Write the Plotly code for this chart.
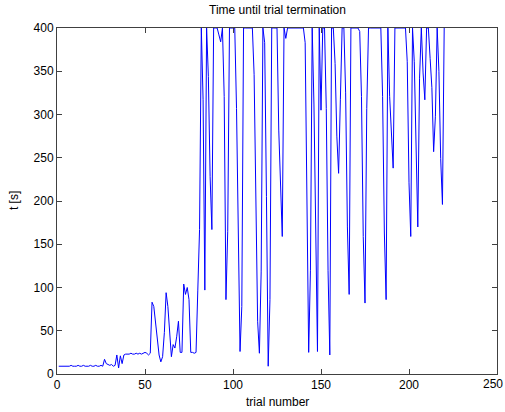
import plotly.graph_objects as go

# Time until trial termination [s] for trials 1..220
early = [9, 9, 9, 9, 9, 9, 9, 10, 9, 9, 9, 10, 9, 9, 10, 9, 9, 9, 10, 9,
         9, 10, 9, 9, 10, 9, 17, 12, 11, 10, 11, 9, 10, 22, 7, 21, 12, 22, 23, 23,
         23, 24, 23, 23, 24, 23, 24, 23, 24, 25, 24, 22, 24, 83, 78, 60, 40, 22, 14, 20,
         48, 94, 78, 43, 20, 34, 30, 43, 61, 25, 25, 104, 92, 100, 86, 25, 25, 24, 25]
late = [97, 167, 400, 317, 97, 400, 344, 228, 167, 400,
        400, 400, 392, 384, 400, 321, 86, 165, 400, 400,
        400, 400, 307, 170, 26, 78, 400, 400, 400, 400,
        400, 400, 346, 224, 61, 24, 118, 400, 383, 205,
        9, 86, 400, 400, 400, 400, 282, 219, 159, 400,
        388, 400, 400, 400, 400, 400, 400, 400, 400, 400,
        400, 383, 175, 25, 120, 400, 311, 134, 26, 400,
        305, 400, 400, 307, 120, 22, 400, 400, 359, 275,
        232, 317, 400, 400, 325, 170, 92, 400, 400, 400,
        400, 400, 396, 321, 159, 82, 307, 400, 400, 400,
        400, 400, 400, 400, 400, 321, 163, 86, 400, 321,
        279, 238, 400, 400, 400, 400, 400, 400, 400, 361,
        221, 159, 400, 361, 275, 170, 342, 400, 348, 317,
        400, 400, 365, 331, 257, 298, 400, 350, 249, 196,
        400]
t_values = early + late
trials = list(range(1, len(t_values) + 1))

x_ticks = [0, 50, 100, 150, 200, 250]
x_ticktext = ["0", "50", "100", "150", "200", ""]   # last label drawn as annotation at the edge
y_ticks = [0, 50, 100, 150, 200, 250, 300, 350, 400]

font = "Liberation Sans, Arial, sans-serif"

fig = go.Figure()
fig.add_trace(go.Scatter(x=trials, y=t_values, mode="lines",
                         line=dict(color="#0000ff", width=1),
                         showlegend=False, hoverinfo="skip"))

axis_common = dict(showgrid=False, zeroline=False, showline=True,
                   linecolor="#404040", linewidth=1, mirror="ticks",
                   ticks="inside", ticklen=5, tickcolor="#404040",
                   ticklabeloverflow="allow",
                   tickfont=dict(family=font, size=12, color="#000000"))

fig.update_layout(
    width=505, height=412,
    margin=dict(l=57, r=8, t=28, b=38),
    paper_bgcolor="white", plot_bgcolor="white",
    xaxis=dict(range=[0, 250], tickvals=x_ticks, ticktext=x_ticktext, **axis_common),
    yaxis=dict(range=[0, 400], tickvals=y_ticks, **axis_common),
    annotations=[
        dict(text="Time until trial termination", xref="paper", yref="paper",
             x=0.5, y=(374.5 - 10) / 346.5, xanchor="center", yanchor="middle",
             showarrow=False, font=dict(family=font, size=12, color="#000000")),
        dict(text="trial number", xref="paper", yref="paper",
             x=0.5, y=-(403 - 374.5) / 346.5, xanchor="center", yanchor="middle",
             showarrow=False, font=dict(family=font, size=12, color="#000000")),
        dict(text="t [s]", xref="paper", yref="paper", textangle=-90,
             x=(14 - 57) / 440.5, y=0.5, xanchor="center", yanchor="middle",
             showarrow=False, font=dict(family=font, size=12, color="#000000")),
        dict(text=str(x_ticks[-1]), xref="paper", yref="paper",
             x=(504 - 57) / 440, y=-(385 - 374.5) / 346.5, xanchor="right", yanchor="middle",
             showarrow=False, borderpad=0,
             font=dict(family=font, size=12, color="#000000")),
    ],
)

fig.write_html("out.html")
